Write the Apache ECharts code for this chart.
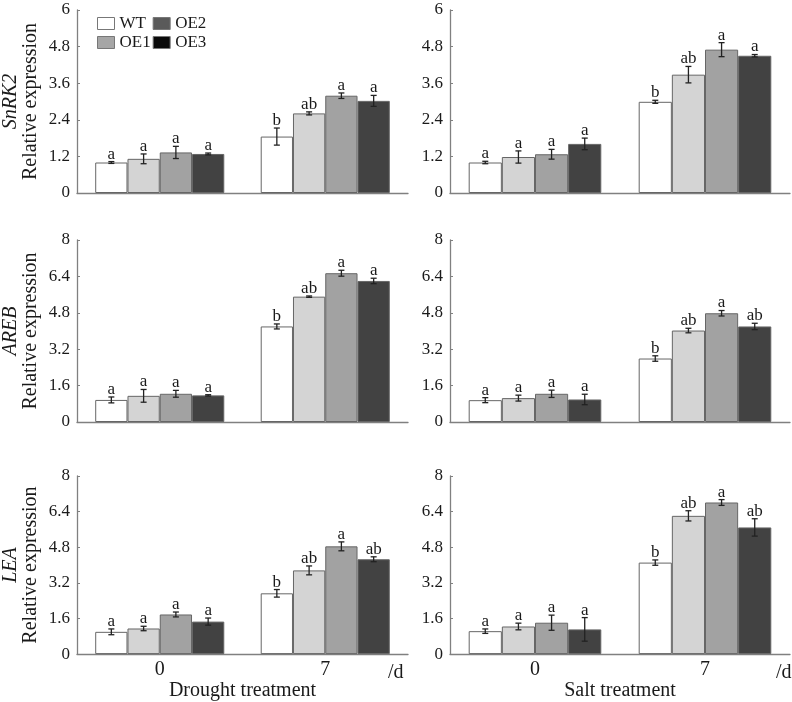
<!DOCTYPE html>
<html>
<head>
<meta charset="utf-8">
<script src="https://cdn.jsdelivr.net/npm/echarts@6/dist/echarts.min.js"></script>
<style>
  html, body { margin: 0; padding: 0; background: #fff; }
  #main { width: 792px; height: 702px; }
</style>
</head>
<body>
<div id="main"></div>
<script>
var genotypes = ['WT', 'OE1', 'OE2', 'OE3']
var days = ['0', '7']

// rows = genotype, columns = day 0 / day 7
var snrk2DroughtMean = [[1.0, 1.85], [1.12, 2.61], [1.33, 3.19], [1.28, 3.02]]
var snrk2DroughtErr = [[0.03, 0.28], [0.16, 0.05], [0.2, 0.09], [0.03, 0.18]]
var snrk2DroughtSig = [['a', 'b'], ['a', 'ab'], ['a', 'a'], ['a', 'a']]

var snrk2SaltMean = [[1.0, 2.99], [1.18, 3.88], [1.27, 4.7], [1.61, 4.5]]
var snrk2SaltErr = [[0.04, 0.05], [0.2, 0.27], [0.16, 0.23], [0.19, 0.04]]
var snrk2SaltSig = [['a', 'b'], ['a', 'ab'], ['a', 'a'], ['a', 'a']]

var arebDroughtMean = [[0.97, 4.2], [1.15, 5.51], [1.24, 6.54], [1.17, 6.2]]
var arebDroughtErr = [[0.13, 0.11], [0.28, 0.03], [0.15, 0.13], [0.03, 0.12]]
var arebDroughtSig = [['a', 'b'], ['a', 'ab'], ['a', 'a'], ['a', 'a']]

var arebSaltMean = [[0.96, 2.79], [1.05, 4.02], [1.24, 4.78], [0.99, 4.2]]
var arebSaltErr = [[0.11, 0.12], [0.13, 0.1], [0.16, 0.12], [0.23, 0.14]]
var arebSaltSig = [['a', 'b'], ['a', 'ab'], ['a', 'a'], ['a', 'ab']]

var leaDroughtMean = [[1.0, 2.73], [1.15, 3.76], [1.78, 4.84], [1.46, 4.26]]
var leaDroughtErr = [[0.13, 0.17], [0.1, 0.2], [0.11, 0.2], [0.16, 0.11]]
var leaDroughtSig = [['a', 'b'], ['a', 'ab'], ['a', 'a'], ['a', 'ab']]

var leaSaltMean = [[1.03, 4.11], [1.24, 6.21], [1.41, 6.81], [1.11, 5.69]]
var leaSaltErr = [[0.1, 0.12], [0.15, 0.23], [0.34, 0.13], [0.53, 0.39]]
var leaSaltSig = [['a', 'b'], ['a', 'ab'], ['a', 'a'], ['a', 'ab']]

var FONT = '"Liberation Serif", "Times New Roman", serif'
var barColors = ['#ffffff', '#d4d4d4', '#a2a2a2', '#424242']
var legendColors = ['#ffffff', '#a6a6a6', '#5a5a5a', '#0a0a0a']
var GAP = 0.22

var panels = [
  { gene: 'SnRK2', mean: snrk2DroughtMean, err: snrk2DroughtErr, sig: snrk2DroughtSig, max: 6, step: 1.2, col: 0, row: 0 },
  { gene: 'SnRK2', mean: snrk2SaltMean, err: snrk2SaltErr, sig: snrk2SaltSig, max: 6, step: 1.2, col: 1, row: 0 },
  { gene: 'AREB', mean: arebDroughtMean, err: arebDroughtErr, sig: arebDroughtSig, max: 8, step: 1.6, col: 0, row: 1 },
  { gene: 'AREB', mean: arebSaltMean, err: arebSaltErr, sig: arebSaltSig, max: 8, step: 1.6, col: 1, row: 1 },
  { gene: 'LEA', mean: leaDroughtMean, err: leaDroughtErr, sig: leaDroughtSig, max: 8, step: 1.6, col: 0, row: 2 },
  { gene: 'LEA', mean: leaSaltMean, err: leaSaltErr, sig: leaSaltSig, max: 8, step: 1.6, col: 1, row: 2 },
]
var colLeft = [69, 450]
var colWidth = [339, 340]
var rowTop = [10, 240, 476]
var rowHeight = [183, 182, 183]
var treatments = ['Drought treatment', 'Salt treatment']

var grid = [], xAxis = [], yAxis = [], series = []

panels.forEach(function (p, i) {
  var bottomRow = p.row === 2
  grid.push({ left: colLeft[p.col], top: rowTop[p.row], width: colWidth[p.col], height: rowHeight[p.row] })
  xAxis.push({
    gridIndex: i,
    type: 'category',
    data: days,
    axisLine: { lineStyle: { color: '#808080', width: 1.3 } },
    axisTick: { inside: true, length: 3, lineStyle: { color: '#808080' } },
    axisLabel: { show: bottomRow, fontFamily: FONT, fontSize: 20, color: '#1a1a1a', margin: 6 },
    name: bottomRow ? treatments[p.col] : '',
    nameLocation: 'middle',
    nameGap: 21,
    nameTextStyle: { fontFamily: FONT, fontSize: 20, color: '#1a1a1a' },
  })
  yAxis.push({
    gridIndex: i,
    type: 'value',
    min: 0,
    max: p.max,
    interval: p.step,
    axisLine: { show: true, lineStyle: { color: '#808080', width: 1.3 } },
    axisTick: { show: true, inside: true, length: 3, lineStyle: { color: '#808080' } },
    splitLine: { show: false },
    axisLabel: { fontFamily: FONT, fontSize: 17, color: '#1a1a1a', margin: 7 },
    name: p.col === 0 ? '{g|' + p.gene + '}\nRelative expression' : '',
    nameLocation: 'middle',
    nameRotate: 90,
    nameGap: 36,
    nameTextStyle: {
      fontFamily: FONT, fontSize: 20, color: '#1a1a1a', lineHeight: 20,
      rich: { g: { fontFamily: FONT, fontSize: 20, fontStyle: 'italic', color: '#1a1a1a', lineHeight: 20 } },
    },
  })

  genotypes.forEach(function (g, gi) {
    series.push({
      type: 'bar',
      name: g,
      xAxisIndex: i,
      yAxisIndex: i,
      data: p.mean[gi],
      barGap: '0%',
      barCategoryGap: GAP * 100 + '%',
      itemStyle: { color: barColors[gi], borderColor: '#666', borderWidth: 1 },
      animation: false,
    })
  })

  var errData = []
  var errSig = []
  for (var gi = 0; gi < 4; gi++) {
    for (var d = 0; d < 2; d++) {
      errData.push([d, gi, p.mean[gi][d], p.err[gi][d]])
      errSig.push(p.sig[gi][d])
    }
  }
  series.push({
    type: 'custom',
    xAxisIndex: i,
    yAxisIndex: i,
    data: errData,
    encode: { x: 0, y: 2 },
    z: 10,
    silent: true,
    animation: false,
    renderItem: function (params, api) {
      var cat = api.value(0), gi = api.value(1), m = api.value(2), e = api.value(3)
      var cw = api.size([1, 0])[0]
      var bw = cw * (1 - GAP) / 4
      var cx = api.coord([cat, m])[0] + (gi - 1.5) * bw
      var yTop = api.coord([cat, m + e])[1]
      var yBot = api.coord([cat, m - e])[1]
      var ls = { stroke: '#222', lineWidth: 1.3 }
      return {
        type: 'group',
        children: [
          { type: 'line', shape: { x1: cx, y1: yTop, x2: cx, y2: yBot }, style: ls },
          { type: 'line', shape: { x1: cx - 3, y1: yTop, x2: cx + 3, y2: yTop }, style: ls },
          { type: 'line', shape: { x1: cx - 3, y1: yBot, x2: cx + 3, y2: yBot }, style: ls },
          {
            type: 'text',
            style: {
              text: errSig[params.dataIndex], x: cx, y: yTop + 1,
              align: 'center', verticalAlign: 'bottom',
              font: '17px ' + FONT, fill: '#1a1a1a',
            },
          },
        ],
      }
    },
  })
})

var myChart = echarts.init(document.getElementById('main'))
var option = {
  animation: false,
  textStyle: { fontFamily: FONT },
  title: [
    { text: '/d', left: 388, top: 663, padding: 0, textStyle: { fontFamily: FONT, fontSize: 20, fontWeight: 'normal', color: '#1a1a1a' } },
    { text: '/d', left: 776, top: 663, padding: 0, textStyle: { fontFamily: FONT, fontSize: 20, fontWeight: 'normal', color: '#1a1a1a' } },
  ],
  legend: {
    orient: 'vertical',
    left: 97,
    top: 15,
    height: 38,
    padding: 0,
    itemGap: 2,
    itemWidth: 17,
    itemHeight: 12,
    icon: 'rect',
    textStyle: { fontFamily: FONT, fontSize: 17, color: '#1a1a1a' },
    data: genotypes.map(function (g, gi) {
      return { name: g, itemStyle: { color: legendColors[gi], borderColor: '#777', borderWidth: 1 } }
    }),
  },
  grid: grid,
  xAxis: xAxis,
  yAxis: yAxis,
  series: series,
}
myChart.setOption(option)
</script>
</body>
</html>
